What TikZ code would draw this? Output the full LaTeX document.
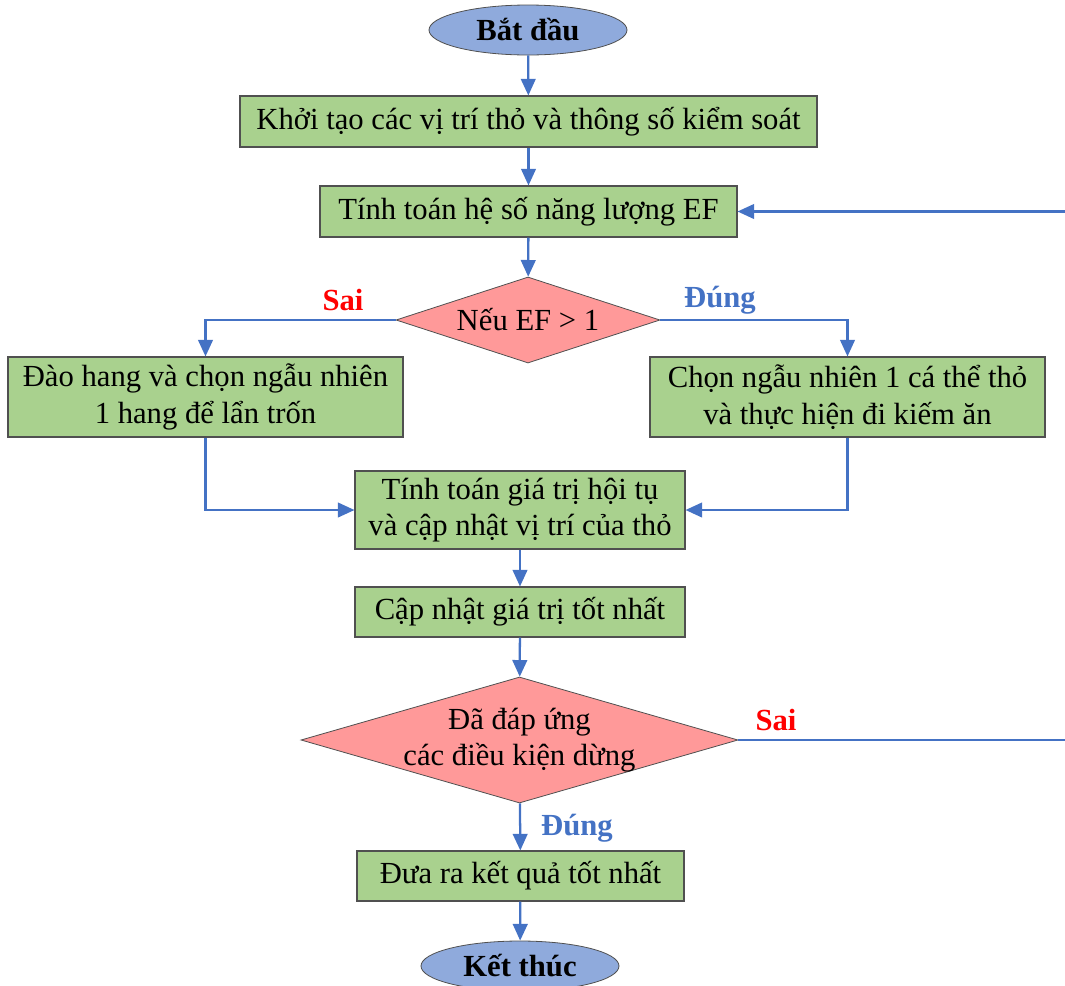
\documentclass[tikz,border=0pt]{standalone}
\usepackage{fontspec}
\setmainfont{Liberation Serif}
\usetikzlibrary{shapes.geometric,arrows.meta}
\definecolor{boxgreen}{HTML}{A9D18E}
\definecolor{decpink}{HTML}{FF9999}
\definecolor{ellblue}{HTML}{8FAADC}
\definecolor{linblue}{HTML}{4472C4}
\definecolor{edgegray}{HTML}{505050}
\begin{document}
\begin{tikzpicture}[x=0.75pt,y=-0.75pt,
  every node/.style={font=\fontsize{23}{27.5}\selectfont},
  procbox/.style={rectangle,draw=edgegray,line width=0.8pt,fill=boxgreen,align=center,inner sep=0pt},
  decbox/.style={diamond,draw=edgegray,line width=0.6pt,fill=decpink,align=center,inner xsep=0pt,inner ysep=-8pt},
  termbox/.style={ellipse,draw=edgegray,line width=0.6pt,fill=ellblue,inner sep=0pt,minimum width=148.5pt,minimum height=37.5pt,font=\fontsize{23}{27.5}\selectfont\bfseries},
  conn/.style={draw=linblue,line width=1.7pt,-{Triangle[length=12.5pt,width=11pt]}},
  plainconn/.style={draw=linblue,line width=1.7pt},
  sailbl/.style={text=red,font=\fontsize{23}{27.5}\selectfont\bfseries},
  dunglbl/.style={text=linblue,font=\fontsize{23}{27.5}\selectfont\bfseries}]
\useasboundingbox (0,0) rectangle (1065,986);
\clip (0,0) rectangle (1065,986);

\node[termbox] (start) at (528,30) {Bắt đầu};
\node[procbox,minimum width=432.75pt,minimum height=38.25pt] (init) at (528.5,121.5) {Khởi tạo các vị trí thỏ và thông số kiểm soát};
\node[procbox,minimum width=312.75pt,minimum height=38.25pt] (ef) at (528.5,211.5) {Tính toán hệ số năng lượng EF};
\node[decbox,minimum width=198pt,minimum height=64.5pt,aspect=3.07] (d1) at (528,320) {Nếu EF > 1};
\node[procbox,minimum width=296.25pt,minimum height=60pt] (left) at (205.5,397) {Đào hang và chọn ngẫu nhiên\\1 hang để lẩn trốn};
\node[procbox,minimum width=296.25pt,minimum height=60pt] (right) at (847.5,397) {Chọn ngẫu nhiên 1 cá thể thỏ\\và thực hiện đi kiếm ăn};
\node[procbox,minimum width=247.5pt,minimum height=58.5pt] (conv) at (520,510) {Tính toán giá trị hội tụ\\và cập nhật vị trí của thỏ};
\node[procbox,minimum width=247.5pt,minimum height=37.5pt] (best) at (520,612) {Cập nhật giá trị tốt nhất};
\node[decbox,minimum width=327.75pt,minimum height=94.5pt,aspect=3.47] (d2) at (519.5,740) {Đã đáp ứng\\các điều kiện dừng};
\node[procbox,minimum width=245.25pt,minimum height=37.5pt] (out) at (520.5,876) {Đưa ra kết quả tốt nhất};
\node[termbox] (end) at (520,966) {Kết thúc};

\coordinate (loopa) at (1080,740);
\coordinate (loopb) at (1080,211.5);

\draw[conn] (start) -- (init);
\draw[conn] (init) -- (ef);
\draw[conn] (ef) -- (d1);
\draw[conn] (d1.west) -| (left.north);
\draw[conn] (d1.east) -| (right.north);
\draw[conn] (left.south) |- (conv.west);
\draw[conn] (right.south) |- (conv.east);
\draw[conn] (conv) -- (best);
\draw[conn] (best) -- (d2);
\draw[conn] (d2) -- (out);
\draw[conn] (out) -- (end);
\draw[plainconn] (d2.east) -- (loopa) -- (loopb);
\draw[conn] (loopb) -- (ef.east);

\node[sailbl] (s1) at (343,300) {Sai};
\node[dunglbl] (t1) at (720,300) {Đúng};
\node[sailbl] (s2) at (776,720) {Sai};
\node[dunglbl] (t2) at (577,828) {Đúng};
\end{tikzpicture}
\end{document}
